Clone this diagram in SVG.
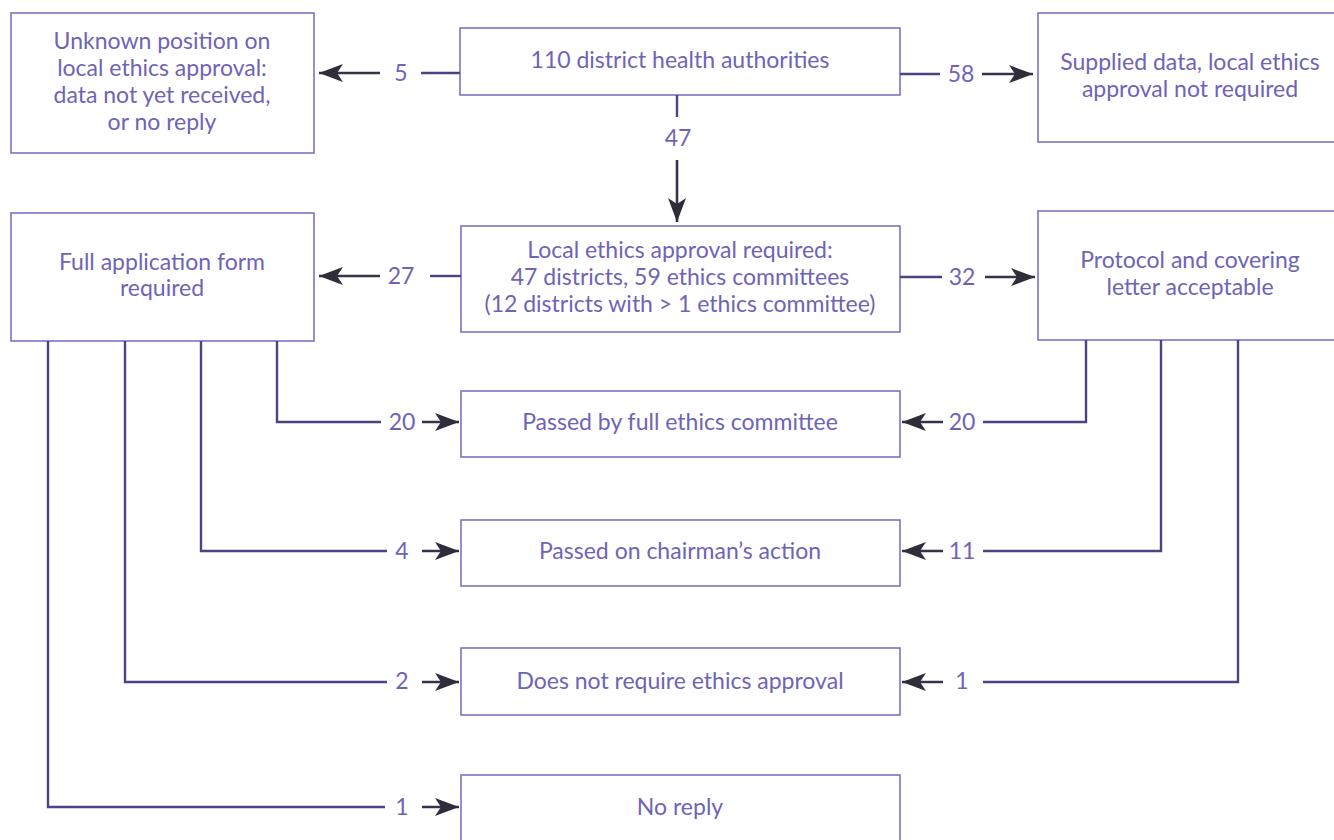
<svg xmlns="http://www.w3.org/2000/svg" width="1334" height="840" viewBox="0 0 1334 840">
<style>
.box{fill:#fff;stroke:#7d72c4;stroke-width:1.6}
.t{font-family:Lato,"Open Sans",sans-serif;font-size:23px;fill:#6e64b6;text-anchor:middle}
.c{fill:none;stroke:#4a4482;stroke-width:2.4}
.a{fill:none;stroke:#35324a;stroke-width:2.6}
</style>
<defs>
<marker id="ah" markerUnits="userSpaceOnUse" markerWidth="26" markerHeight="18" refX="24" refY="9" orient="auto">
<path d="M0,0 L24,9 L0,18 L6,9 Z" fill="#2f2d3a"/>
</marker>
</defs>
<rect width="1334" height="840" fill="#fff"/>

<g id="unknown"><rect class="box" x="11" y="13" width="303" height="140"/>
<text class="t" x="162" y="49">Unknown position on</text>
<text class="t" x="162" y="76">local ethics approval:</text>
<text class="t" x="162" y="103">data not yet received,</text>
<text class="t" x="162" y="130">or no reply</text></g>

<g id="dha"><rect class="box" x="460" y="28" width="440" height="67"/>
<text class="t" x="680" y="68">110 district health authorities</text></g>

<g id="supplied"><rect class="box" x="1038" y="13" width="310" height="129"/>
<text class="t" x="1190" y="70">Supplied data, local ethics</text>
<text class="t" x="1190" y="97">approval not required</text></g>

<g id="fullapp"><rect class="box" x="11" y="213" width="303" height="128"/>
<text class="t" x="162" y="270">Full application form</text>
<text class="t" x="162" y="296">required</text></g>

<g id="local"><rect class="box" x="461" y="226" width="439" height="106"/>
<text class="t" x="680" y="258">Local ethics approval required:</text>
<text class="t" x="680" y="285">47 districts, 59 ethics committees</text>
<text class="t" x="680" y="312">(12 districts with &gt; 1 ethics committee)</text></g>

<g id="protocol"><rect class="box" x="1038" y="211" width="310" height="129"/>
<text class="t" x="1190" y="268">Protocol and covering</text>
<text class="t" x="1190" y="295">letter acceptable</text></g>

<g id="passedfull"><rect class="box" x="461" y="391" width="439" height="66"/>
<text class="t" x="680" y="430">Passed by full ethics committee</text></g>

<g id="chairman"><rect class="box" x="461" y="520" width="439" height="66"/>
<text class="t" x="680" y="559">Passed on chairman’s action</text></g>

<g id="notrequire"><rect class="box" x="461" y="648" width="439" height="67"/>
<text class="t" x="680" y="689">Does not require ethics approval</text></g>

<g id="noreply"><rect class="box" x="461" y="775" width="439" height="80"/>
<text class="t" x="680" y="815">No reply</text></g>

<g id="connectors">
<path class="c" d="M460,73 H421"/>
<text class="t" x="401" y="81">5</text>
<path class="a" d="M380,73 H319" marker-end="url(#ah)"/>
<path class="c" d="M900,74 H940"/>
<text class="t" x="961" y="82">58</text>
<path class="a" d="M982,74 H1033" marker-end="url(#ah)"/>
<path class="c" d="M677,95 V117"/>
<text class="t" x="678" y="146">47</text>
<path class="a" d="M677,160 V222" marker-end="url(#ah)"/>
<path class="c" d="M461,276 H430"/>
<text class="t" x="401" y="284">27</text>
<path class="a" d="M380,276 H319" marker-end="url(#ah)"/>
<path class="c" d="M900,277 H942"/>
<text class="t" x="962" y="285">32</text>
<path class="a" d="M985,277 H1035" marker-end="url(#ah)"/>
<path class="c" d="M277,341 V422 H381"/>
<text class="t" x="402" y="430">20</text>
<path class="a" d="M422,422 H459" marker-end="url(#ah)"/>
<path class="c" d="M201,341 V551 H387"/>
<text class="t" x="402" y="559">4</text>
<path class="a" d="M422,551 H459" marker-end="url(#ah)"/>
<path class="c" d="M125,341 V682 H387"/>
<text class="t" x="402" y="689">2</text>
<path class="a" d="M422,682 H459" marker-end="url(#ah)"/>
<path class="c" d="M48,341 V807 H385"/>
<text class="t" x="402" y="815">1</text>
<path class="a" d="M422,807 H459" marker-end="url(#ah)"/>
<path class="c" d="M1086,340 V422 H983"/>
<text class="t" x="962" y="430">20</text>
<path class="a" d="M943,422 H902" marker-end="url(#ah)"/>
<path class="c" d="M1161,340 V551 H983"/>
<text class="t" x="962" y="559">11</text>
<path class="a" d="M943,551 H902" marker-end="url(#ah)"/>
<path class="c" d="M1238,340 V682 H983"/>
<text class="t" x="962" y="689">1</text>
<path class="a" d="M943,682 H902" marker-end="url(#ah)"/>
</g>
</svg>
